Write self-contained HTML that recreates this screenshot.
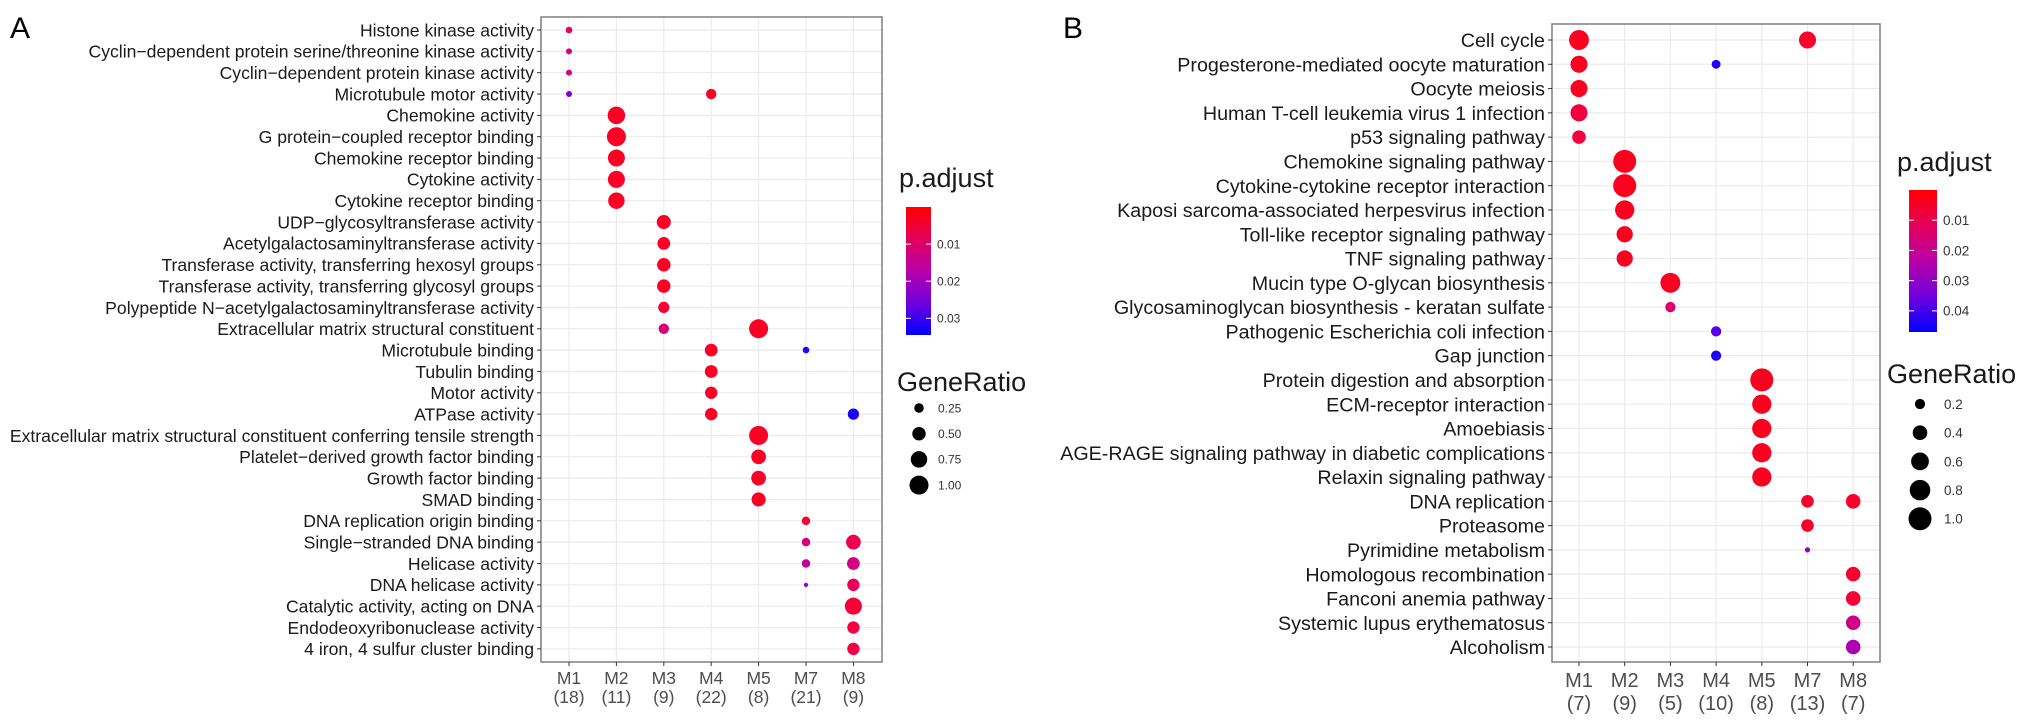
<!DOCTYPE html>
<html><head><meta charset="utf-8"><style>
html,body{margin:0;padding:0;background:#fff;}
svg{display:block;font-family:"Liberation Sans",Arial,sans-serif;}
</style></head><body>
<svg id="s" width="2031" height="728" viewBox="0 0 2031 728" xmlns="http://www.w3.org/2000/svg">
<defs>
<linearGradient id="gA" x1="0" y1="0" x2="0" y2="1"><stop offset="0" stop-color="#ff0000"/><stop offset="0.25" stop-color="#e4005c"/><stop offset="0.5" stop-color="#b800a8"/><stop offset="0.75" stop-color="#7000dc"/><stop offset="1" stop-color="#0000ff"/></linearGradient>
</defs>
<text x="10" y="38" font-size="30" fill="#000">A</text>
<text x="1063" y="38" font-size="30" fill="#000">B</text>
</svg>
<script>
// ---------- Panel A data ----------
const aModules = ["M1","M2","M3","M4","M5","M7","M8"];
const aCounts = ["(18)","(11)","(9)","(22)","(8)","(21)","(9)"];
const aTerms = ["Histone kinase activity","Cyclin\u2212dependent protein serine/threonine kinase activity","Cyclin\u2212dependent protein kinase activity","Microtubule motor activity","Chemokine activity","G protein\u2212coupled receptor binding","Chemokine receptor binding","Cytokine activity","Cytokine receptor binding","UDP\u2212glycosyltransferase activity","Acetylgalactosaminyltransferase activity","Transferase activity, transferring hexosyl groups","Transferase activity, transferring glycosyl groups","Polypeptide N\u2212acetylgalactosaminyltransferase activity","Extracellular matrix structural constituent","Microtubule binding","Tubulin binding","Motor activity","ATPase activity","Extracellular matrix structural constituent conferring tensile strength","Platelet\u2212derived growth factor binding","Growth factor binding","SMAD binding","DNA replication origin binding","Single\u2212stranded DNA binding","Helicase activity","DNA helicase activity","Catalytic activity, acting on DNA","Endodeoxyribonuclease activity","4 iron, 4 sulfur cluster binding"];
const aPtTerm = [0,1,2,3,3,4,5,6,7,8,9,10,11,12,13,14,14,15,15,16,17,18,18,19,20,21,22,23,24,24,25,25,26,26,27,28,29];
const aPtMod  = [0,0,0,0,3,1,1,1,1,1,2,2,2,2,2,2,4,3,5,3,3,3,6,4,4,4,4,5,5,6,5,6,5,6,6,6,6];
const aPtRatio= [0.12,0.1,0.1,0.1,0.3,0.85,1.0,0.8,0.8,0.75,0.55,0.45,0.5,0.5,0.35,0.3,1.0,0.45,0.12,0.45,0.42,0.42,0.35,1.0,0.6,0.6,0.55,0.2,0.2,0.6,0.2,0.45,0.05,0.42,0.8,0.42,0.42];
const aPtP    = [0.006,0.009,0.010,0.025,0.001,0.001,0.001,0.001,0.001,0.001,0.001,0.001,0.001,0.001,0.002,0.009,0.001,0.001,0.033,0.001,0.001,0.001,0.034,0.001,0.001,0.001,0.001,0.002,0.009,0.004,0.014,0.010,0.022,0.005,0.002,0.003,0.003];
const aPTicks = [0.01,0.02,0.03];
const aSizeTicks = [0.25,0.5,0.75,1.0];
const aSizeLabels = ["0.25","0.50","0.75","1.00"];

// ---------- Panel B data ----------
const bModules = ["M1","M2","M3","M4","M5","M7","M8"];
const bCounts = ["(7)","(9)","(5)","(10)","(8)","(13)","(7)"];
const bTerms = ["Cell cycle","Progesterone-mediated oocyte maturation","Oocyte meiosis","Human T-cell leukemia virus 1 infection","p53 signaling pathway","Chemokine signaling pathway","Cytokine-cytokine receptor interaction","Kaposi sarcoma-associated herpesvirus infection","Toll-like receptor signaling pathway","TNF signaling pathway","Mucin type O-glycan biosynthesis","Glycosaminoglycan biosynthesis - keratan sulfate","Pathogenic Escherichia coli infection","Gap junction","Protein digestion and absorption","ECM-receptor interaction","Amoebiasis","AGE-RAGE signaling pathway in diabetic complications","Relaxin signaling pathway","DNA replication","Proteasome","Pyrimidine metabolism","Homologous recombination","Fanconi anemia pathway","Systemic lupus erythematosus","Alcoholism"];
const bPtTerm = [0,0,1,1,2,3,4,5,6,7,8,9,10,11,12,13,14,15,16,17,18,19,19,20,21,22,23,24,25];
const bPtMod  = [0,5,0,3,0,0,0,1,1,1,1,1,2,2,3,3,4,4,4,4,4,5,6,5,5,6,6,6,6];
const bPtRatio= [0.75,0.55,0.55,0.15,0.55,0.55,0.35,1.0,1.0,0.7,0.5,0.5,0.75,0.2,0.2,0.2,1.0,0.7,0.7,0.7,0.7,0.3,0.4,0.3,0.05,0.4,0.4,0.4,0.4];
const bPtP    = [0.001,0.002,0.001,0.046,0.001,0.004,0.004,0.001,0.001,0.001,0.001,0.001,0.001,0.01,0.04,0.046,0.001,0.001,0.001,0.001,0.001,0.002,0.002,0.002,0.03,0.002,0.003,0.015,0.024];
const bPTicks = [0.01,0.02,0.03,0.04];
const bSizeTicks = [0.2,0.4,0.6,0.8,1.0];
const bSizeLabels = ["0.2","0.4","0.6","0.8","1.0"];

const NS="http://www.w3.org/2000/svg";
const svg=document.getElementById('s');
function mk(tag,attrs,parent){const e=document.createElementNS(NS,tag);for(const k in attrs)e.setAttribute(k,attrs[k]);(parent||svg).appendChild(e);return e;}
function mix(t){t=Math.max(0,Math.min(1,t));const r=Math.round(255*Math.pow(1-t,0.55)),b=Math.round(255*Math.pow(t,0.55));return `rgb(${r},0,${b})`;}

function panel(cfg){
  const g=mk('g',{});
  
  
  const x=i=>cfg.x0+i*cfg.dx;
  const y=i=>cfg.y0+i*cfg.dy;
  const col=p=>mix((p-cfg.pmin)/(cfg.pmax-cfg.pmin));
  const rad=v=>cfg.rmax*Math.sqrt(v);
  cfg.terms.forEach((t,i)=>{const l=mk('line',{x1:cfg.L,x2:cfg.R,y1:y(i),y2:y(i),stroke:'#ebebeb','stroke-width':1.2},g);
    });
  cfg.mods.forEach((m,i)=>{const l=mk('line',{x1:x(i),x2:x(i),y1:cfg.T,y2:cfg.B,stroke:'#ebebeb','stroke-width':1.2},g);
    });
  const fr=mk('rect',{x:cfg.L,y:cfg.T,width:cfg.R-cfg.L,height:cfg.B-cfg.T,fill:'none',stroke:'#7f7f7f','stroke-width':1.5},g);
  
  cfg.terms.forEach((t,i)=>{
    mk('line',{x1:cfg.L-4,x2:cfg.L,y1:y(i),y2:y(i),stroke:'#333','stroke-width':1},g);
    const tx=mk('text',{x:cfg.L-7,y:y(i)+cfg.fs*0.36,'text-anchor':'end','font-size':cfg.fs,fill:'#1a1a1a'},g);
    tx.textContent=t;
    
  });
  cfg.mods.forEach((m,i)=>{
    mk('line',{x1:x(i),x2:x(i),y1:cfg.B,y2:cfg.B+4,stroke:'#333','stroke-width':1},g);
    const t1=mk('text',{x:x(i),y:cfg.B+cfg.xl1,'text-anchor':'middle','font-size':cfg.xfs,fill:'#4d4d4d'},g);
    t1.textContent=m;
    const t2=mk('text',{x:x(i),y:cfg.B+cfg.xl2,'text-anchor':'middle','font-size':cfg.xfs,fill:'#4d4d4d'},g);
    t2.textContent=cfg.counts[i];
  });
  cfg.pt.forEach((ti,k)=>{
    const c=mk('circle',{cx:x(cfg.pm[k]),cy:y(ti),r:rad(cfg.pr[k]),fill:col(cfg.pp[k])},g);
    
  });
  const lt=mk('text',{x:cfg.lgx,y:cfg.lgTitleY,'font-size':cfg.lfs,fill:'#1a1a1a'},g);
  lt.textContent='p.adjust';
  const bar=mk('rect',{x:cfg.cbx,y:cfg.cbT,width:cfg.cbw,height:cfg.cbB-cfg.cbT,fill:'url(#gA)'},g);
  
  const cy=p=>cfg.cbT+(p-cfg.pmin)/(cfg.pmax-cfg.pmin)*(cfg.cbB-cfg.cbT);
  cfg.pticks.forEach(p=>{
    mk('line',{x1:cfg.cbx,x2:cfg.cbx+5,y1:cy(p),y2:cy(p),stroke:'#fff','stroke-width':1},g);
    mk('line',{x1:cfg.cbx+cfg.cbw-5,x2:cfg.cbx+cfg.cbw,y1:cy(p),y2:cy(p),stroke:'#fff','stroke-width':1},g);
    const t=mk('text',{x:cfg.cbx+cfg.cbw+6,y:cy(p)+cfg.tfs*0.36,'font-size':cfg.tfs,fill:'#333'},g);
    t.textContent=p.toFixed(2);
  });
  const st=mk('text',{x:cfg.sgx,y:cfg.sgTitleY,'font-size':cfg.lfs,fill:'#1a1a1a'},g);
  st.textContent='GeneRatio';
  cfg.sticks.forEach((v,i)=>{
    const yy=cfg.sgY0+i*cfg.sgDy;
    const c=mk('circle',{cx:cfg.sgCx,cy:yy,r:rad(v),fill:'#000'},g);
    
    const t=mk('text',{x:cfg.sgCx+cfg.sgLx,y:yy+cfg.tfs*0.36,'font-size':cfg.tfs,fill:'#333'},g);
    t.textContent=cfg.slabels[i];
  });
}

panel({name:'panel-a',terms:aTerms,mods:aModules,counts:aCounts,pt:aPtTerm,pm:aPtMod,pr:aPtRatio,pp:aPtP,
  L:541,R:882,T:17,B:662,x0:569,dx:47.4,y0:30,dy:21.34,fs:17.6,xfs:17.5,xl1:22,xl2:41,rmax:9.5,pmin:0,pmax:0.0345,
  lgx:899,lgTitleY:187,lfs:27,cbx:906,cbw:25,cbT:207,cbB:335,tfs:12,pticks:aPTicks,
  sgx:897,sgTitleY:391,sgCx:919,sgY0:408,sgDy:25.7,sgLx:19,sticks:aSizeTicks,slabels:aSizeLabels});

panel({name:'panel-b',terms:bTerms,mods:bModules,counts:bCounts,pt:bPtTerm,pm:bPtMod,pr:bPtRatio,pp:bPtP,
  L:1552,R:1880,T:24,B:662,x0:1579,dx:45.7,y0:40,dy:24.28,fs:19.7,xfs:20,xl1:25,xl2:48,rmax:11.5,pmin:0,pmax:0.047,
  lgx:1897,lgTitleY:171,lfs:27,cbx:1909,cbw:28,cbT:190,cbB:332,tfs:13.5,pticks:bPTicks,
  sgx:1887,sgTitleY:383,sgCx:1920,sgY0:404,sgDy:28.7,sgLx:24,sticks:bSizeTicks,slabels:bSizeLabels});
</script>
</body></html>
